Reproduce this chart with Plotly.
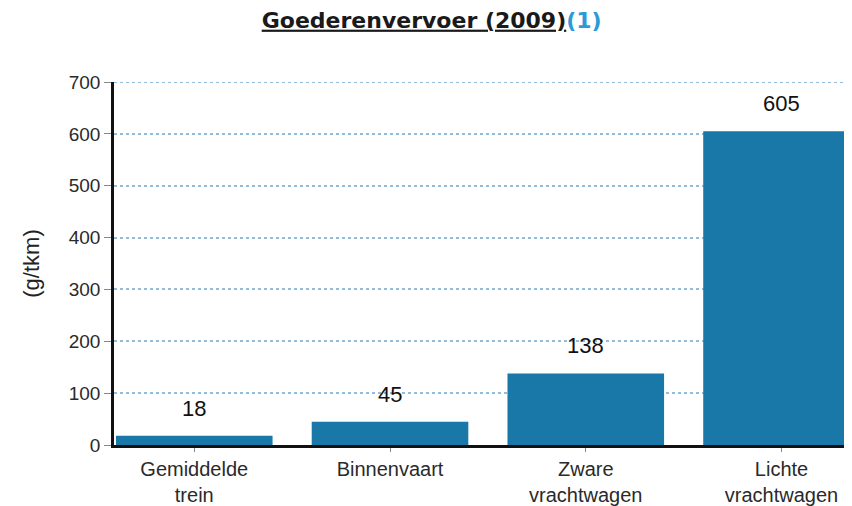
import plotly.graph_objects as go

categories = ["Gemiddelde<br>trein", "Binnenvaart", "Zware<br>vrachtwagen", "Lichte<br>vrachtwagen"]
values = [18, 45, 138, 605]
y_ticks = [0, 100, 200, 300, 400, 500, 600, 700]

bar_color = "#1978a8"
grid_color = "#93bcd8"

fig = go.Figure(go.Bar(
    x=list(range(len(categories))), y=values,
    marker=dict(color=bar_color, line=dict(width=0)),
    width=0.8,
))

for i, v in enumerate(values):
    fig.add_annotation(x=i, y=v, text=str(v), showarrow=False,
                       yanchor="bottom", yshift=13,
                       font=dict(family="Arial, Liberation Sans", size=22, color="#111111"))

# top gridline (plotly omits the gridline at the range edge)
fig.add_shape(type="line", xref="paper", x0=0, x1=1, yref="y", y0=y_ticks[-1], y1=y_ticks[-1],
              line=dict(color=grid_color, width=2, dash="dot"), layer="below")

fig.update_layout(
    width=844, height=498,
    margin=dict(l=106, r=0, t=74, b=56),
    paper_bgcolor="white", plot_bgcolor="white",
    showlegend=False,
    title=dict(
        text="<b><u>Goederenvervoer (2009)</u></b><b><span style='color:#2c9ad6'>(1)</span></b>",
        x=0.502, xanchor="center", y=0.976, yanchor="middle",
        font=dict(family="DejaVu Sans", size=22, color="#1a1a1a"),
    ),
    font=dict(family="Arial, Liberation Sans"),
)

fig.update_xaxes(
    range=[-0.41, 3.36],
    tickmode="array", tickvals=list(range(len(categories))), ticktext=categories,
    showline=True, linecolor="#111111", linewidth=2.5,
    ticks="outside", ticklen=4, tickcolor="#888888",
    tickfont=dict(size=20, color="#2a2a2a"),
    showgrid=False, zeroline=False,
)
fig.update_yaxes(
    range=[0, 700],
    tickmode="array", tickvals=y_ticks,
    showline=True, linecolor="#111111", linewidth=2.5,
    ticks="outside", ticklen=7, tickcolor="#888888",
    tickfont=dict(size=19, color="#2a2a2a"),
    showgrid=True, gridcolor=grid_color, griddash="dot", gridwidth=2,
    zeroline=False,
    title=dict(text="(g/tkm)", font=dict(size=22, color="#222222"), standoff=24),
)

fig.write_html("out.html")
